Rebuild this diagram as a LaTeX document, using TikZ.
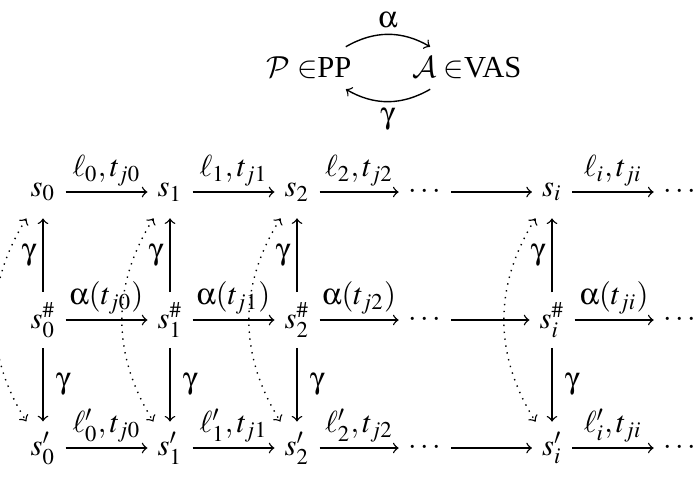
\documentclass[tikz,border=0pt]{standalone}
\usepackage{mathptmx}
\usepackage[Symbol]{upgreek}
\DeclareMathAlphabet{\mathcal}{OMS}{cmsy}{m}{n}
\usepackage{fontspec}
\setmainfont{Liberation Serif}
\usetikzlibrary{arrows.meta}
\newcommand\ualpha{\upalpha}
\newcommand\ugamma{\upgamma}
\begin{document}
\begin{tikzpicture}[x=0.36pt,y=-0.36pt,>=to,
  font=\fontsize{11}{13}\selectfont,
  obj/.style={inner sep=3.5pt},
  objtop/.style={inner xsep=3.5pt,inner ysep=6pt},
  arr/.style={->,line width=0.5pt},
  dotarr/.style={<->,dotted,line width=0.5pt},
  lab/.style={inner sep=2pt},
  lableft/.style={left,inner sep=2pt},
  labright/.style={right,inner sep=4.5pt}]
\useasboundingbox (0,0) rectangle (697,476);
% top
\node[obj] (P) at (309,68) {$\mathcal{P}\in$PP};
\node[obj] (A) at (467,68) {$\mathcal{A}\in$VAS};
\draw[arr] (P) to[bend left=30] node[lab,above] {$\ualpha$} (A);
\draw[arr] (A) to[bend left=30] node[lab,below] {$\ugamma$} (P);
% grid row 1
\node[objtop] (s0) at (43,192) {$s_0$};
\node[objtop] (s1) at (170,192) {$s_1$};
\node[objtop] (s2) at (297,192) {$s_2$};
\node[objtop] (d1) at (425,192) {$\cdots$};
\node[objtop] (si) at (552,192) {$s_i$};
\node[objtop] (d2) at (680,192) {$\cdots$};
% row 2
\node[obj] (h0) at (43,320) {$s_0^\#$};
\node[obj] (h1) at (170,320) {$s_1^\#$};
\node[obj] (h2) at (297,320) {$s_2^\#$};
\node[obj] (e1) at (425,320) {$\cdots$};
\node[obj] (hi) at (552,320) {$s_i^\#$};
\node[obj] (e2) at (680,320) {$\cdots$};
% row 3
\node[obj] (p0) at (43,448) {$s'_0$};
\node[obj] (p1) at (170,448) {$s'_1$};
\node[obj] (p2) at (297,448) {$s'_2$};
\node[obj] (f1) at (425,448) {$\cdots$};
\node[obj] (pi) at (552,448) {$s'_i$};
\node[obj] (f2) at (680,448) {$\cdots$};
% horizontal arrows
\draw[arr] (s0) -- node[lab,above] {$\ell_0,t_{j0}$} (s1);
\draw[arr] (s1) -- node[lab,above] {$\ell_1,t_{j1}$} (s2);
\draw[arr] (s2) -- node[lab,above] {$\ell_2,t_{j2}$} (d1);
\draw[arr] (d1) -- (si);
\draw[arr] (si) -- node[lab,above] {$\ell_i,t_{ji}$} (d2);
\draw[arr] (h0) -- node[lab,above] {$\ualpha(t_{j0})$} (h1);
\draw[arr] (h1) -- node[lab,above] {$\ualpha(t_{j1})$} (h2);
\draw[arr] (h2) -- node[lab,above] {$\ualpha(t_{j2})$} (e1);
\draw[arr] (e1) -- (hi);
\draw[arr] (hi) -- node[lab,above] {$\ualpha(t_{ji})$} (e2);
\draw[arr] (p0) -- node[lab,above] {$\ell'_0,t_{j0}$} (p1);
\draw[arr] (p1) -- node[lab,above] {$\ell'_1,t_{j1}$} (p2);
\draw[arr] (p2) -- node[lab,above] {$\ell'_2,t_{j2}$} (f1);
\draw[arr] (f1) -- (pi);
\draw[arr] (pi) -- node[lab,above] {$\ell'_i,t_{ji}$} (f2);
% vertical arrows
\foreach \c in {0,1,2,i}{
  \draw[arr] (h\c) -- node[lableft] {$\ugamma$} (s\c);
  \draw[arr] (h\c) -- node[labright] {$\ugamma$} (p\c);
  \draw[dotarr] (s\c) to[bend right=32] (p\c);
}
\end{tikzpicture}
\end{document}
